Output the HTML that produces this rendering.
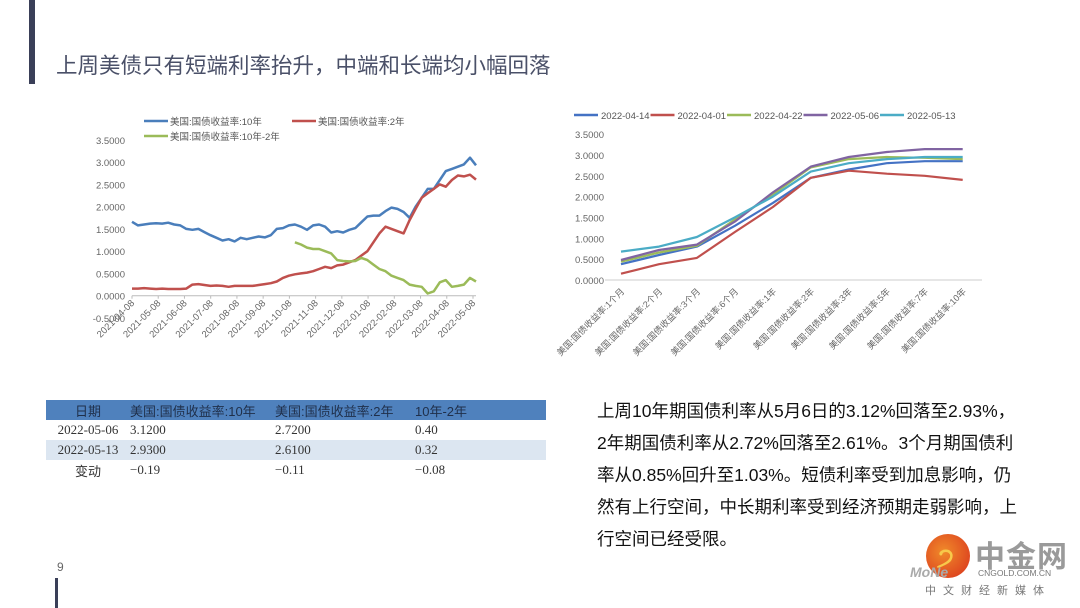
<!DOCTYPE html>
<html><head><meta charset="utf-8">
<style>
body{margin:0;width:1080px;height:608px;background:#fff;overflow:hidden;position:relative;font-family:"Liberation Sans","Noto Sans CJK SC",sans-serif;}
.abs{position:absolute;}
table{border-collapse:collapse;font-family:"Liberation Serif","Noto Serif CJK SC",serif;font-size:13px;color:#333;}
td{height:20px;padding:0;}
</style></head><body>
<div class="abs" style="left:29px;top:0;width:6px;height:84px;background:#3a3f58"></div>
<div class="abs" style="left:55px;top:578px;width:3px;height:30px;background:#3a3f58"></div>
<div class="abs" style="left:56px;top:49px;font-size:21.5px;color:#4a5068;white-space:nowrap">上周美债只有短端利率抬升，中端和长端均小幅回落</div>
<div class="abs" style="left:57px;top:560px;font-size:12px;color:#666">9</div>

<svg class="abs" style="left:0;top:0" width="1080" height="400" id="charts"></svg>

<table class="abs" style="left:46px;top:400px;width:500px">
<tr style="background:#4f81bd;color:#1f2f4a;font-family:'Liberation Sans','Noto Sans CJK SC',sans-serif"><td style="width:84px;text-align:center">日期</td><td style="width:145px">美国:国债收益率:10年</td><td style="width:140px">美国:国债收益率:2年</td><td>10年-2年</td></tr>
<tr><td style="text-align:center">2022-05-06</td><td>3.1200</td><td>2.7200</td><td>0.40</td></tr>
<tr style="background:#dce6f1"><td style="text-align:center">2022-05-13</td><td>2.9300</td><td>2.6100</td><td>0.32</td></tr>
<tr><td style="text-align:center;font-family:'Liberation Sans','Noto Sans CJK SC',sans-serif">变动</td><td>−0.19</td><td>−0.11</td><td>−0.08</td></tr>
</table>

<div class="abs" style="left:597px;top:395px;font-size:17.5px;line-height:32px;color:#111;white-space:nowrap">上周10年期国债利率从5月6日的3.12%回落至2.93%，<br>2年期国债利率从2.72%回落至2.61%。3个月期国债利<br>率从0.85%回升至1.03%。短债利率受到加息影响，仍<br>然有上行空间，中长期利率受到经济预期走弱影响，上<br>行空间已经受限。</div>

<div class="abs" style="left:920px;top:530px;width:160px;height:78px">
<div class="abs" style="left:6px;top:4px;width:44px;height:44px;border-radius:50%;background:radial-gradient(circle at 40% 40%,#f08a2a,#d8301c)"></div>
<div class="abs" style="left:17px;top:12px;font-size:26px;font-weight:bold;color:#f7c94a">੭</div>
<div class="abs" style="left:55px;top:2px;font-size:30px;font-weight:bold;color:#9a9a9a;letter-spacing:1px">中金网</div>
<div class="abs" style="left:-10px;top:34px;font-size:14px;font-style:italic;font-weight:bold;color:#aaa">MoNe</div>
<div class="abs" style="left:58px;top:38px;font-size:8.5px;color:#777">CNGOLD.COM.CN</div>
<div class="abs" style="left:5px;top:52px;font-size:11px;color:#777;letter-spacing:7px">中文财经新媒体</div>
</div>

<script>
// ---- Left chart data (weekly, 2021-04-08 .. 2022-05-13) ----
const leftTicks = ["2021-04-08","2021-05-08","2021-06-08","2021-07-08","2021-08-08","2021-09-08","2021-10-08","2021-11-08","2021-12-08","2022-01-08","2022-02-08","2022-03-08","2022-04-08","2022-05-08"];
const leftYTicks = [3.5,3.0,2.5,2.0,1.5,1.0,0.5,0.0,-0.5];
const y10 = [1.66,1.58,1.60,1.62,1.63,1.62,1.64,1.60,1.58,1.50,1.48,1.50,1.43,1.36,1.30,1.24,1.27,1.22,1.30,1.27,1.30,1.33,1.31,1.36,1.50,1.52,1.58,1.60,1.55,1.48,1.58,1.60,1.55,1.42,1.45,1.42,1.48,1.52,1.65,1.78,1.80,1.80,1.90,1.98,1.95,1.88,1.75,2.00,2.20,2.40,2.40,2.60,2.80,2.85,2.90,2.95,3.10,2.93];
const y2 = [0.16,0.16,0.17,0.16,0.15,0.16,0.15,0.15,0.15,0.16,0.25,0.26,0.24,0.22,0.23,0.22,0.20,0.22,0.22,0.22,0.22,0.24,0.26,0.28,0.32,0.40,0.45,0.48,0.50,0.52,0.55,0.60,0.65,0.62,0.68,0.70,0.75,0.80,0.90,1.00,1.20,1.40,1.55,1.50,1.45,1.40,1.70,1.95,2.20,2.30,2.40,2.50,2.45,2.60,2.70,2.68,2.72,2.61];
const ySpread = [null,null,null,null,null,null,null,null,null,null,null,null,null,null,null,null,null,null,null,null,null,null,null,null,null,null,null,1.20,1.15,1.08,1.05,1.05,1.00,0.95,0.80,0.78,0.77,0.78,0.85,0.80,0.70,0.60,0.55,0.45,0.40,0.35,0.25,0.22,0.20,0.05,0.10,0.30,0.35,0.20,0.22,0.25,0.40,0.32];
// ---- Right chart data ----
const rightCats = ["美国:国债收益率:1个月","美国:国债收益率:2个月","美国:国债收益率:3个月","美国:国债收益率:6个月","美国:国债收益率:1年","美国:国债收益率:2年","美国:国债收益率:3年","美国:国债收益率:5年","美国:国债收益率:7年","美国:国债收益率:10年"];
const rightYTicks = [3.5,3.0,2.5,2.0,1.5,1.0,0.5,0.0];
const seriesNames = ["2022-04-14","2022-04-01","2022-04-22","2022-05-06","2022-05-13"];
const s0414 = [0.38,0.60,0.80,1.30,1.85,2.45,2.65,2.80,2.85,2.85];
const s0401 = [0.15,0.38,0.53,1.15,1.75,2.45,2.62,2.55,2.50,2.40];
const s0422 = [0.44,0.66,0.82,1.45,2.05,2.70,2.90,2.95,2.93,2.90];
const s0506 = [0.48,0.72,0.85,1.40,2.10,2.72,2.95,3.07,3.14,3.14];
const s0513 = [0.68,0.80,1.03,1.50,2.00,2.60,2.80,2.90,2.95,2.95];

const NS="http://www.w3.org/2000/svg";
const svg=document.getElementById('charts');
function mk(tag,attrs,parent){const e=document.createElementNS(NS,tag);for(const k in attrs)e.setAttribute(k,attrs[k]);(parent||svg).appendChild(e);return e;}
function txt(s,attrs,parent){const e=mk('text',attrs,parent);e.textContent=s;return e;}

const lx0=132,lx1=476,ly0=295.7,lpx=44.5;
const LY=v=>ly0-v*lpx;
const LX=i=>lx0+i*(lx1-lx0)/(y10.length-1);
const LXt=i=>lx0+i*(473-lx0)/(leftTicks.length-1);
const lg=mk('g',{});


leftYTicks.forEach(v=>{const t=txt(v.toFixed(4),{x:125,y:LY(v)+4,'text-anchor':'end','font-size':9.5,fill:'#666'},lg);});
mk('line',{x1:lx0,x2:lx1,y1:ly0,y2:ly0,stroke:'#bbb','stroke-width':1},lg);
leftTicks.forEach((d,i)=>{const x=LXt(i);mk('line',{x1:x,x2:x,y1:ly0,y2:ly0+3,stroke:'#bbb'},lg);const t=txt(d,{x:x+3,y:ly0+8,'text-anchor':'end','font-size':9.5,fill:'#666',transform:`rotate(-45 ${x+3} ${ly0+8})`},lg);});
function poly(arr,X,Y,color,name,g,w){let d='',pen=false;arr.forEach((v,i)=>{if(v==null){pen=false;return;}d+=(pen?'L':'M')+X(i).toFixed(1)+','+Y(v).toFixed(1);pen=true;});const p=mk('path',{d,fill:'none',stroke:color,'stroke-width':w,'stroke-linejoin':'round'},g);}
poly(y10,LX,LY,'#4a7ebb','line-10y',lg,2.5);
poly(y2,LX,LY,'#c0504d','line-2y',lg,2.5);
poly(ySpread,LX,LY,'#9bbb59','line-spread',lg,2.5);
[[ '美国:国债收益率:10年','#4a7ebb',144,121],['美国:国债收益率:2年','#c0504d',292,121],['美国:国债收益率:10年-2年','#9bbb59',144,136]].forEach(([n,c,x,y])=>{const g=mk('g',{},lg);mk('line',{x1:x,x2:x+24,y1:y,y2:y,stroke:c,'stroke-width':2.5},g);txt(n,{x:x+26,y:y+4,'font-size':9.5,fill:'#555'},g);});

const rx0=621,rx1=962.7,ry0=280,rpx=41.7;
const RY=v=>ry0-v*rpx;
const RX=i=>rx0+i*(rx1-rx0)/(rightCats.length-1);
const rg=mk('g',{});


rightYTicks.forEach(v=>{const t=txt(v.toFixed(4),{x:604,y:RY(v)+4,'text-anchor':'end','font-size':9.5,fill:'#666'},rg);});
mk('line',{x1:605,x2:982,y1:ry0,y2:ry0,stroke:'#ccc'},rg);
rightCats.forEach((c,i)=>{const x=RX(i)+4;const t=txt(c,{x:x,y:ry0+12,'text-anchor':'end','font-size':9,fill:'#666',transform:`rotate(-45 ${x} ${ry0+12})`},rg);});
const rColors=['#4472c4','#c0504d','#9bbb59','#8064a2','#4bacc6'];
const rData=[s0414,s0401,s0422,s0506,s0513];
rData.forEach((arr,k)=>poly(arr,RX,RY,rColors[k],'line-'+seriesNames[k],rg,2.2));
seriesNames.forEach((n,k)=>{const x=574+k*76.5;const g=mk('g',{},rg);mk('line',{x1:x,x2:x+24,y1:115,y2:115,stroke:rColors[k],'stroke-width':2.5},g);txt(n,{x:x+27,y:119,'font-size':9.5,fill:'#555'},g);});
</script>
</body></html>
